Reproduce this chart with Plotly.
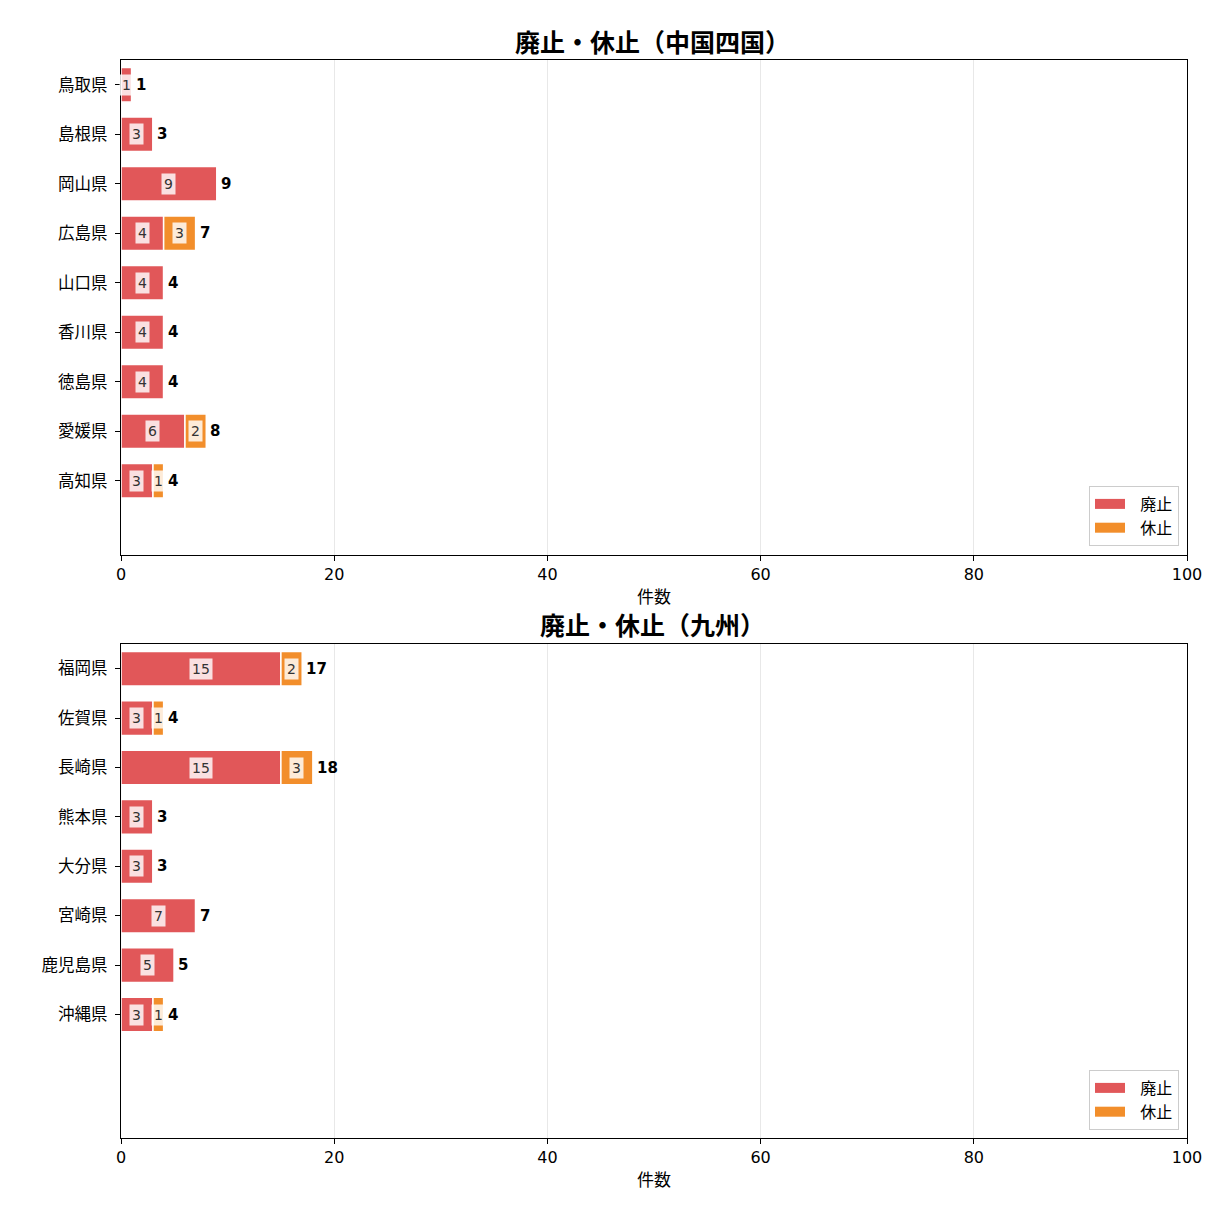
import plotly.graph_objects as go

FONT = "DejaVu Sans, Noto Sans CJK JP"
TFONT = "Noto Sans CJK JP"
RED = "#e15759"
ORANGE = "#f28e2b"

# ---- data ----
pref_cs = ["鳥取県", "島根県", "岡山県", "広島県", "山口県", "香川県", "徳島県", "愛媛県", "高知県"]
haishi_cs = [1, 3, 9, 4, 4, 4, 4, 6, 3]
kyushi_cs = [0, 0, 0, 3, 0, 0, 0, 2, 1]

pref_ky = ["福岡県", "佐賀県", "長崎県", "熊本県", "大分県", "宮崎県", "鹿児島県", "沖縄県"]
haishi_ky = [15, 3, 15, 3, 3, 7, 5, 3]
kyushi_ky = [2, 1, 3, 0, 0, 0, 0, 1]

series_names = ["廃止", "休止"]
titles = ["廃止・休止（中国四国）", "廃止・休止（九州）"]
x_ticks = [0, 20, 40, 60, 80, 100]

W = H = 1211
def px_x(p): return p / W
def px_y(p): return 1 - p / H

fig = go.Figure()
panels = [(pref_cs, haishi_cs, kyushi_cs), (pref_ky, haishi_ky, kyushi_ky)]
xaxes = ["x", "x2"]
yaxes = ["y", "y2"]
legends = ["legend", "legend2"]
annotations = []

for i, (prefs, h, k) in enumerate(panels):
    xa, ya = xaxes[i], yaxes[i]
    for name, vals, base, col in [(series_names[0], h, [0] * len(h), RED),
                                  (series_names[1], k, h, ORANGE)]:
        fig.add_trace(go.Bar(
            y=prefs, x=vals, base=base, orientation="h", name=name,
            marker=dict(color=col, line=dict(color="white", width=1.5)),
            width=0.7, xaxis=xa, yaxis=ya, showlegend=False,
            hoverinfo="skip",
        ))
        # legend swatch
        fig.add_trace(go.Scatter(
            x=[None], y=[None], mode="lines", name="\u00a0\u00a0" + name,
            line=dict(color=col, width=10), xaxis=xa, yaxis=ya,
            legend=legends[i], showlegend=True,
        ))
        for p, v, b in zip(prefs, vals, base):
            if v > 0:
                annotations.append(dict(
                    x=b + v / 2, y=p, xref=xa, yref=ya, text=str(v), showarrow=False,
                    font=dict(family=FONT, size=14, color="#333"),
                    bgcolor="rgba(255,255,255,0.82)", borderpad=2,
                ))
    for p, a, b in zip(prefs, h, k):
        annotations.append(dict(
            x=a + b, y=p, xref=xa, yref=ya, text=f"<b>{a + b}</b>", showarrow=False,
            xanchor="left", xshift=2,
            font=dict(family=FONT, size=15, color="black"),
        ))

# panel titles
annotations.append(dict(x=px_x(652), y=px_y(41), xref="paper", yref="paper", text=f"<b>{titles[0]}</b>",
                        showarrow=False, yanchor="middle", xanchor="center",
                        font=dict(family=TFONT, size=25, color="black")))
annotations.append(dict(x=px_x(652), y=px_y(624), xref="paper", yref="paper", text=f"<b>{titles[1]}</b>",
                        showarrow=False, yanchor="middle", xanchor="center",
                        font=dict(family=TFONT, size=25, color="black")))

axis_common = dict(
    range=[0, 100], tickvals=x_ticks, ticks="outside", ticklen=5, tickcolor="black",
    showline=True, linecolor="black", linewidth=1.2, mirror=True, automargin=False,
    showgrid=True, gridcolor="#e8e8e8", gridwidth=1, zeroline=False,
    tickfont=dict(family=FONT, size=16, color="black"),
    title=dict(text="件数", font=dict(family=FONT, size=17, color="black"), standoff=7),
)
yaxis_common = dict(
    type="category", range=[9.5, -0.5], ticks="outside", ticklen=5, tickcolor="black",
    showline=True, linecolor="black", linewidth=1.2, mirror=True, showgrid=False,
    automargin=False, ticklabelstandoff=4,
    tickfont=dict(family=FONT, size=16.5, color="black"),
)

legend_common = dict(
    xanchor="right", yanchor="bottom", bgcolor="white", bordercolor="#cccccc", borderwidth=1,
    font=dict(family=FONT, size=16, color="black"), tracegroupgap=0, itemwidth=30,
)

fig.update_layout(
    width=W, height=H, margin=dict(l=0, r=0, t=0, b=0, autoexpand=False),
    plot_bgcolor="white", paper_bgcolor="white",
    barmode="overlay", showlegend=True,
    xaxis=dict(domain=[px_x(121), px_x(1187)], anchor="y", **axis_common),
    yaxis=dict(domain=[px_y(555), px_y(60)], anchor="x", **yaxis_common),
    xaxis2=dict(domain=[px_x(121), px_x(1187)], anchor="y2", **axis_common),
    yaxis2=dict(domain=[px_y(1138), px_y(644)], anchor="x2", **yaxis_common),
    legend=dict(x=px_x(1179), y=px_y(546), **legend_common),
    legend2=dict(x=px_x(1179), y=px_y(1130), **legend_common),
    annotations=annotations,
)

fig.write_html("out.html")
